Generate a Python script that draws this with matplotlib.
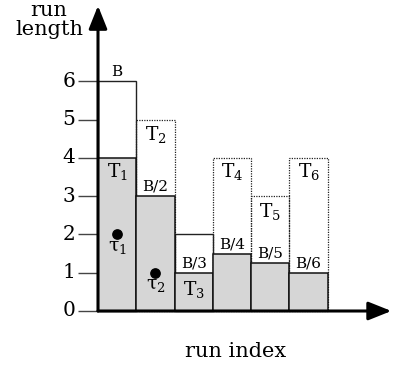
import matplotlib
matplotlib.use("Agg")
import matplotlib.pyplot as plt
from matplotlib.patches import Rectangle

plt.rcParams["font.family"] = "DejaVu Serif"
plt.rcParams["mathtext.fontset"] = "dejavuserif"

# runs: budget B = 6, cap B/k for run k, actual T_k
runs = [1, 2, 3, 4, 5, 6]
cap = [6, 3, 2, 1.5, 1.25, 1]
task = [4, 5, 1, 4, 3, 4]
filled = [4, 3, 1, 1.5, 1.25, 1]
cap_labels = ["B", "B/2", "B/3", "B/4", "B/5", "B/6"]
task_labels = ["T$_1$", "T$_2$", "T$_3$", "T$_4$", "T$_5$", "T$_6$"]
task_label_y = [3.65, 4.6, 0.55, 3.65, 2.6, 3.65]
tau_x = [0.5, 1.5]
tau_y = [2, 1]
tau_labels = ["τ$_1$", "τ$_2$"]
yticks = [0, 1, 2, 3, 4, 5, 6]

PX = 38.3  # pixels per unit
fig = plt.figure(figsize=(3.93, 3.68), dpi=100)
ax = fig.add_axes([0, 0, 1, 1])
ax.set_xlim(-98 / PX, 295 / PX)
ax.set_ylim(-57 / PX, 311 / PX)

for i, k in enumerate(runs):
    x0 = k - 1
    # outer box: solid where the cap binds, dotted where the task is taller
    if task[i] > cap[i]:
        ax.add_patch(Rectangle((x0, 0), 1, task[i], fill=False, ec="#222222",
                               lw=0.9, ls=(0, (1, 1))))
    else:
        ax.add_patch(Rectangle((x0, 0), 1, cap[i], fill=False, ec="#222222", lw=1.0))
ax.bar([k - 0.5 for k in runs], filled, width=1, color="#d6d6d6",
       edgecolor="#111111", lw=1.1, zorder=2)

for i, k in enumerate(runs):
    ax.text(k - 0.5, (filled[i] if i else cap[i]) + 0.06, cap_labels[i],
            ha="center", va="bottom", fontsize=11)
    ax.text(k - 0.5, task_label_y[i], task_labels[i], ha="center", va="center",
            fontsize=13.5)

ax.scatter(tau_x, tau_y, s=45, color="k", zorder=3)
for x, y, lab in zip(tau_x, tau_y, tau_labels):
    ax.text(x, y - 0.33, lab, ha="center", va="center", fontsize=13.5)

for sp in ["top", "right", "bottom"]:
    ax.spines[sp].set_visible(False)
ax.spines["left"].set_position(("data", 0))
ax.spines["left"].set_bounds(0, 6)
ax.spines["left"].set_linewidth(0)
ax.set_xticks([])
ax.set_yticks(yticks)
ax.tick_params(axis="y", direction="out", length=14.4, width=1.0, color="#444444",
               labelsize=14.5, pad=2)
for lab in ax.get_yticklabels():
    lab.set_verticalalignment("center")

arrow = dict(arrowstyle="-|>,head_length=1.0,head_width=0.4", lw=2.2, color="k",
             shrinkA=0, shrinkB=0, mutation_scale=14)
ax.annotate("", xy=(7.66, 0), xytext=(0, 0), arrowprops=arrow, zorder=4)
ax.annotate("", xy=(0, 7.97), xytext=(0, 0), arrowprops=arrow, zorder=4)

ax.text(-49 / PX, 8.1, "run\nlength", ha="center", va="top", fontsize=15,
        linespacing=1.0)
ax.text(3.58, -1.07, "run index", ha="center", va="center", fontsize=15)

fig.savefig("out.png", dpi=100)
